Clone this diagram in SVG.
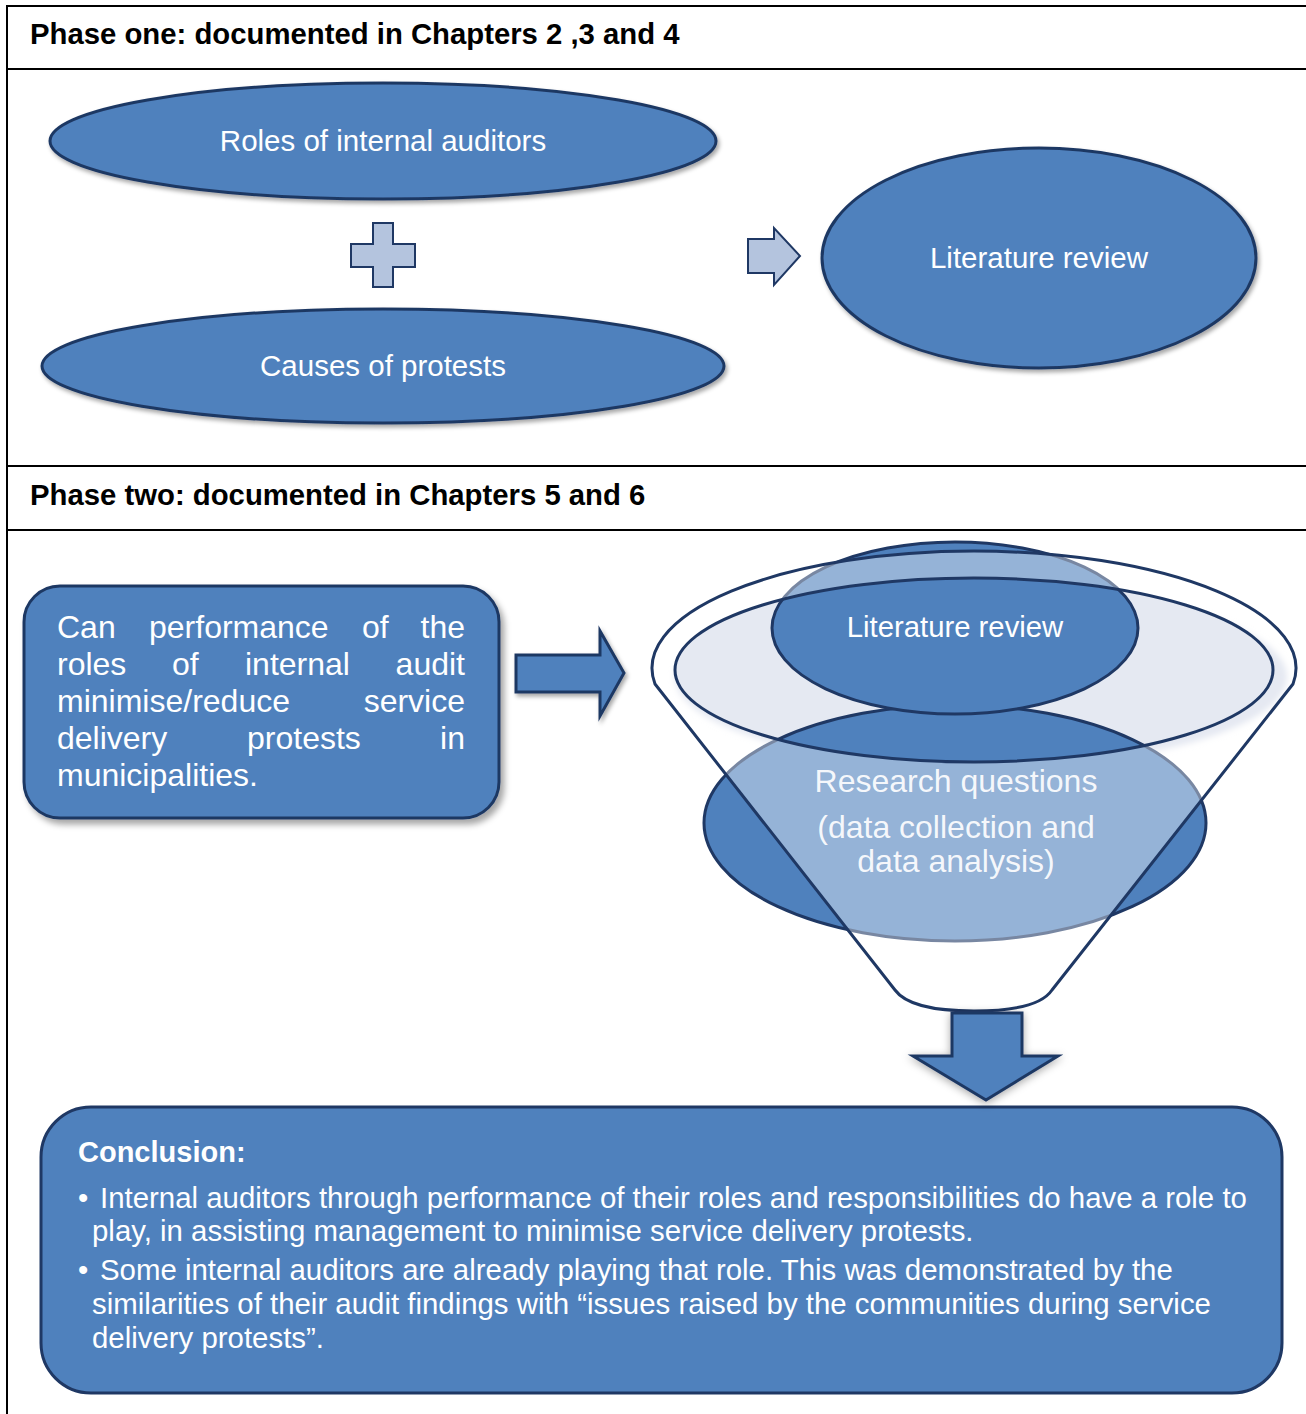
<svg xmlns="http://www.w3.org/2000/svg" width="1306" height="1414" viewBox="0 0 1306 1414">
<defs>
<style>
.t{font-family:"Liberation Sans",Arial,sans-serif;fill:#ffffff}
.h{font-family:"Liberation Sans",Arial,sans-serif;font-weight:bold;fill:#000000;font-size:29.3px}
.node{fill:#4f81bd;stroke:#1f3864;stroke-width:3}
.light{fill:#b4c4de;stroke:#1f3864;stroke-width:2}
.rule{stroke:#000;stroke-width:2}
</style>
<filter id="sh" x="-10%" y="-10%" width="120%" height="130%">
<feDropShadow dx="2" dy="3" stdDeviation="2" flood-color="#000" flood-opacity="0.35"/>
</filter>
<filter id="sh2" x="-10%" y="-10%" width="125%" height="130%">
<feDropShadow dx="4" dy="5" stdDeviation="3" flood-color="#000" flood-opacity="0.35"/>
</filter>
<filter id="glow" x="-30%" y="-30%" width="160%" height="160%">
<feDropShadow dx="0" dy="2" stdDeviation="4" flood-color="#000" flood-opacity="0.35"/>
</filter>
<filter id="blur" x="-10%" y="-20%" width="120%" height="140%">
<feGaussianBlur stdDeviation="3"/>
</filter>
</defs>
<rect width="1306" height="1414" fill="#ffffff"/>

<g id="table">
<line class="rule" x1="6" y1="6" x2="1306" y2="6"/>
<line class="rule" x1="7" y1="5" x2="7" y2="1414"/>
<line class="rule" x1="6" y1="69" x2="1306" y2="69"/>
<line class="rule" x1="6" y1="466" x2="1306" y2="466"/>
<line class="rule" x1="6" y1="530" x2="1306" y2="530"/>
<text class="h" x="30" y="44">Phase one: documented in Chapters 2 ,3 and 4</text>
<text class="h" x="30" y="505">Phase two: documented in Chapters 5 and 6</text>
</g>

<g id="roles">
<ellipse class="node" filter="url(#sh)" cx="383" cy="141" rx="333" ry="58"/>
<text class="t" x="383" y="151" font-size="29.5" text-anchor="middle">Roles of internal auditors</text>
</g>
<g id="causes">
<ellipse class="node" filter="url(#sh)" cx="383" cy="366" rx="341" ry="57"/>
<text class="t" x="383" y="376" font-size="29.5" text-anchor="middle">Causes of protests</text>
</g>
<g id="litreview1">
<ellipse class="node" filter="url(#sh)" cx="1039" cy="258" rx="217" ry="110"/>
<text class="t" x="1039" y="268" font-size="29.5" text-anchor="middle">Literature review</text>
</g>

<g id="question">
<rect class="node" filter="url(#sh2)" x="24" y="586" width="475" height="232" rx="36" ry="36"/>
<g class="t" font-size="32">
<text x="57" y="638">Can</text><text x="149" y="638">performance</text><text x="362" y="638">of</text><text x="465" y="638" text-anchor="end">the</text>
<text x="57" y="675">roles</text><text x="172" y="675">of</text><text x="245" y="675">internal</text><text x="465" y="675" text-anchor="end">audit</text>
<text x="57" y="712">minimise/reduce</text><text x="465" y="712" text-anchor="end">service</text>
<text x="57" y="749">delivery</text><text x="247" y="749">protests</text><text x="465" y="749" text-anchor="end">in</text>
<text x="57" y="786">municipalities.</text>
</g>
</g>

<g id="funnel">
<ellipse cx="981" cy="677" rx="306" ry="90" fill="#d4dae9" filter="url(#blur)"/>
<ellipse cx="974" cy="670" rx="299" ry="92" fill="#e5e9f2"/>
<g id="research">
<ellipse class="node" cx="955" cy="823" rx="251" ry="118"/>
</g>
<g id="litreview2">
<ellipse class="node" cx="955" cy="628" rx="183" ry="86"/>
</g>
<path fill="#ffffff" fill-opacity="0.4" fill-rule="evenodd" d="M655 684 A322 117 0 1 1 1293 684 L1052 990 C1040 1008 1000 1011 974 1011 C948 1011 908 1008 895 990 Z M675 670 A299 92 0 1 0 1273 670 A299 92 0 1 0 675 670 Z"/>
<path fill="none" stroke="#1f3864" stroke-width="3" stroke-linejoin="round" d="M655 684 A322 117 0 1 1 1293 684 L1052 990 C1040 1008 1000 1011 974 1011 C948 1011 908 1008 895 990 Z"/>
<ellipse cx="974" cy="670" rx="299" ry="92" fill="none" stroke="#1f3864" stroke-width="3"/>
<text class="t" x="955" y="637" font-size="29.3" text-anchor="middle">Literature review</text>
<g class="t" font-size="32" text-anchor="middle" fill-opacity="0.92">
<text x="956" y="792">Research questions</text>
<text x="956" y="838">(data collection and</text>
<text x="956" y="872">data analysis)</text>
</g>
</g>

<g id="conclusion">
<rect class="node" x="41" y="1107" width="1241" height="286" rx="50" ry="50"/>
<text class="t" x="78" y="1162" font-size="29" font-weight="bold">Conclusion:</text>
<g class="t" font-size="29.4">
<text x="78" y="1208">•</text>
<text x="100" y="1208">Internal auditors through performance of their roles and responsibilities do have a role to</text>
<text x="92" y="1241">play, in assisting management to minimise service delivery protests.</text>
<text x="78" y="1280">•</text>
<text x="100" y="1280">Some internal auditors are already playing that role. This was demonstrated by the</text>
<text x="92" y="1314">similarities of their audit findings with “issues raised by the communities during service</text>
<text x="92" y="1348">delivery protests”.</text>
</g>
</g>

<g id="connectors">
<path class="light" d="M373 223 H393 V244 H415 V267 H393 V287 H373 V267 H351 V244 H373 Z"/>
<path class="light" d="M748 239 H774 V228 L800 256 L774 285 V273 H748 Z"/>
<path class="node" filter="url(#sh)" d="M516 655 H600 V631 L624 673 L600 716 V692 H516 Z"/>
<path class="node" filter="url(#glow)" d="M952 1013 H1022 V1056 H1058 L986 1100 L913 1056 H952 Z"/>
</g>
</svg>
